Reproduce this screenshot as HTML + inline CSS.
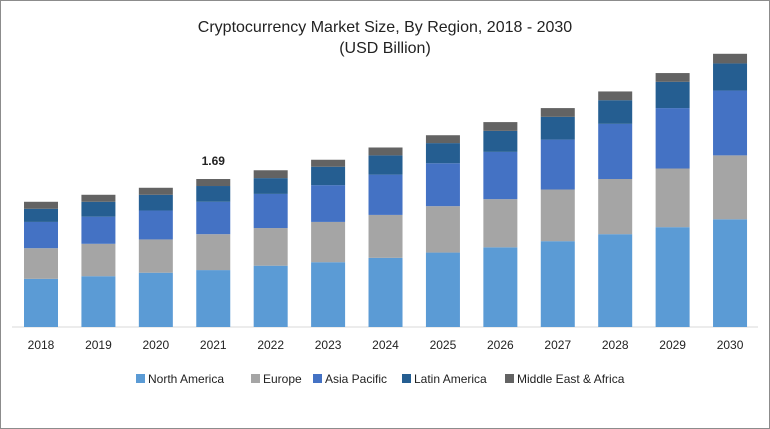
<!DOCTYPE html>
<html><head><meta charset="utf-8"><style>
body{margin:0;background:#fff;}
#wrap{position:relative;width:768px;height:427px;border:1px solid #8c8c8c;background:#fff;font-family:"Liberation Sans",sans-serif;}
svg{position:absolute;left:-1px;top:-1px;}
</style></head><body>
<div id="wrap">
<svg id="chart" width="770" height="429">
<text x="385" y="32" text-anchor="middle" font-size="16" fill="#222">Cryptocurrency Market Size, By Region, 2018 - 2030</text>
<text x="385" y="53" text-anchor="middle" font-size="16" fill="#222">(USD Billion)</text>
<line x1="12" y1="327" x2="758" y2="327" stroke="#d9d9d9"/>
<g id="bars"></g><g id="xlabels"></g><g id="legend"></g>
</svg></div>
<script>
const years=["2018","2019","2020","2021","2022","2023","2024","2025","2026","2027","2028","2029","2030"];
const northAmerica=[0.55,0.58,0.62,0.65,0.70,0.74,0.79,0.85,0.91,0.98,1.06,1.14,1.23];
const europe=[0.35,0.37,0.38,0.41,0.43,0.46,0.49,0.53,0.55,0.59,0.63,0.67,0.73];
const asiaPacific=[0.30,0.31,0.33,0.37,0.39,0.42,0.46,0.49,0.54,0.57,0.63,0.69,0.74];
const latinAmerica=[0.15,0.17,0.18,0.18,0.18,0.21,0.22,0.23,0.24,0.26,0.27,0.30,0.31];
const mea=[0.08,0.08,0.08,0.08,0.09,0.08,0.09,0.09,0.10,0.10,0.10,0.10,0.11];
const seriesNames=["North America","Europe","Asia Pacific","Latin America","Middle East & Africa"];
const annotationLabel="1.69";
const annotationIndex=3;
const series=[northAmerica,europe,asiaPacific,latinAmerica,mea];
const colors=["#5b9bd5","#a5a5a5","#4472c4","#255e91","#636363"];
const slugs=["north-america","europe","asia-pacific","latin-america","middle-east-africa"];
const NS="http://www.w3.org/2000/svg";
const base=327, pxPer=1/0.01142;
function yScale(v){return base-v*pxPer;}
function xCenter(i){return 41+i*57.42;}
const bw=34;
const bars=document.getElementById('bars');
years.forEach((yr,i)=>{
  let acc=0;
  series.forEach((s,k)=>{
    const y0=yScale(acc), y1=yScale(acc+s[i]); acc+=s[i];
    const r=document.createElementNS(NS,'rect');
    r.setAttribute('x',xCenter(i)-bw/2);r.setAttribute('y',y1);
    r.setAttribute('width',bw);r.setAttribute('height',y0-y1);
    r.setAttribute('fill',colors[k]);
    
    
    bars.appendChild(r);
  });
  if(i===annotationIndex){
    const t=document.createElementNS(NS,'text');
    t.setAttribute('x',xCenter(i));t.setAttribute('y',yScale(acc)-14);
    t.setAttribute('text-anchor','middle');t.setAttribute('font-size','12');t.setAttribute('font-weight','bold');t.setAttribute('fill','#222');
    t.textContent=annotationLabel;
    
    
    bars.appendChild(t);
  }
  const l=document.createElementNS(NS,'text');
  l.setAttribute('x',xCenter(i));l.setAttribute('y',349);
  l.setAttribute('text-anchor','middle');l.setAttribute('font-size','12');l.setAttribute('fill','#222');
  l.textContent=yr;
  
  
  document.getElementById('xlabels').appendChild(l);
});
const legend=document.getElementById('legend');
const lx=[136,251,313,402,505];
seriesNames.forEach((n,k)=>{
  const g=document.createElementNS(NS,'g');
  
  
  const r=document.createElementNS(NS,'rect');
  r.setAttribute('x',lx[k]);r.setAttribute('y',374);r.setAttribute('width',9);r.setAttribute('height',9);r.setAttribute('fill',colors[k]);
  const t=document.createElementNS(NS,'text');
  t.setAttribute('x',lx[k]+12);t.setAttribute('y',383);t.setAttribute('font-size','12');t.setAttribute('fill','#222');
  t.textContent=n;
  g.appendChild(r);g.appendChild(t);legend.appendChild(g);
});
</script>
</body></html>
